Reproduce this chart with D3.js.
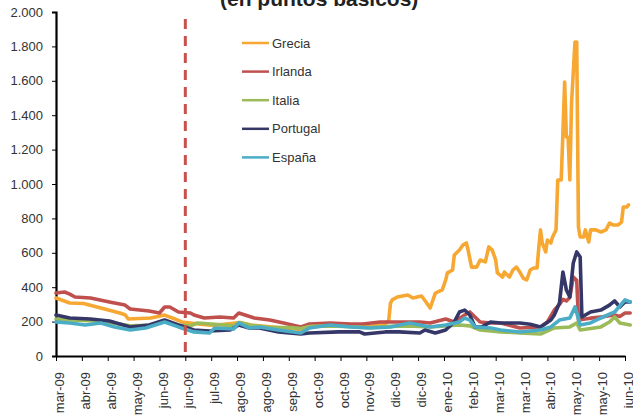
<!DOCTYPE html>
<html>
<head>
<meta charset="utf-8">
<script src="https://cdn.jsdelivr.net/npm/d3@7"></script>
<style>
  html, body { margin: 0; padding: 0; background: #fff; }
  svg { display: block; font-family: "Liberation Sans", Arial, sans-serif; }
</style>
</head>
<body>
<svg id="chart" width="633" height="415"></svg>
<script>
// ---------- DATA (x = trading-day index since start of mar-09) ----------
const title = "(en puntos básicos)";
const xTickLabels = ["mar-09","abr-09","abr-09","may-09","jun-09","jun-09","jul-09","ago-09","ago-09","sep-09","oct-09","oct-09","nov-09","dic-09","dic-09","ene-10","feb-10","mar-10","mar-10","abr-10","may-10","may-10","jun-10"];
const xTickStep = 15;
const yTicks = [0,200,400,600,800,1000,1200,1400,1600,1800,2000];
const markerDay = 75;
const seriesNames = ["Grecia","Irlanda","Italia","Portugal","España"];

const grecia = [[0,337],[8,308],[16,305],[26,279],[37,250],[40,240],[42,215],[55,221],[63,238],[69,215],[73,198],[78,192],[84,185],[92,178],[107,195],[113,180],[124,170],[136,160],[142,155],[147,170],[159,180],[171,175],[182,172],[191,185],[193,209],[194,308],[195,326],[198,343],[204,355],[207,337],[212,349],[215,308],[217,279],[220,366],[224,384],[226,442],[227,483],[230,500],[231,587],[234,616],[236,645],[238,657],[239,616],[241,517],[244,517],[246,558],[249,547],[251,634],[253,616],[255,558],[256,483],[259,459],[260,488],[263,459],[265,500],[267,517],[269,488],[271,453],[273,442],[275,500],[277,512],[279,512],[280,628],[281,733],[282,657],[284,605],[285,674],[287,657],[288,692],[290,733],[291,1023],[293,1023],[294,1297],[295,1593],[296,1273],[297,1273],[298,1023],[299,1471],[301,1826],[302,1826],[303,750],[304,692],[306,692],[307,733],[309,663],[310,733],[313,733],[316,721],[319,733],[321,773],[323,762],[326,762],[328,779],[329,866],[331,866],[332,878]];

const irlanda = [[0,366],[5,372],[8,360],[11,343],[20,337],[31,314],[40,296],[43,273],[54,262],[60,250],[63,285],[66,285],[71,256],[78,250],[80,238],[86,221],[95,227],[103,221],[106,250],[115,221],[124,209],[132,192],[142,169],[147,186],[159,192],[171,186],[178,186],[188,198],[199,198],[211,198],[217,192],[226,215],[231,198],[237,238],[240,256],[243,227],[246,198],[252,192],[258,192],[269,163],[281,169],[285,198],[289,267],[292,300],[294,330],[296,320],[298,340],[300,459],[302,440],[303,209],[310,220],[316,227],[324,238],[327,230],[330,250],[333,250]];

const italia = [[0,215],[8,210],[20,205],[31,195],[43,175],[54,178],[63,200],[71,180],[78,175],[82,192],[92,185],[103,175],[106,195],[115,175],[124,165],[136,165],[142,160],[147,172],[159,175],[171,170],[182,165],[194,172],[205,175],[217,169],[226,175],[234,180],[240,175],[246,151],[258,140],[269,134],[281,128],[289,163],[298,169],[302,192],[304,151],[316,169],[321,198],[324,227],[327,192],[333,180]];

const portugal = [[0,238],[8,221],[20,215],[31,203],[43,169],[54,180],[63,209],[71,180],[80,151],[89,145],[101,151],[106,180],[112,163],[118,163],[129,140],[142,128],[147,134],[164,140],[176,140],[179,128],[191,140],[199,140],[211,134],[214,151],[220,134],[226,151],[231,198],[234,256],[237,267],[240,238],[243,169],[247,169],[252,198],[258,192],[269,192],[275,185],[281,169],[287,209],[289,238],[292,308],[294,488],[296,384],[298,343],[300,541],[302,605],[304,576],[305,227],[310,256],[316,267],[321,296],[324,320],[327,285],[330,314],[333,314]];

const espana = [[0,198],[8,192],[17,180],[26,192],[34,169],[43,151],[52,163],[63,198],[71,169],[80,140],[89,134],[92,163],[103,157],[106,192],[112,163],[118,169],[129,151],[142,134],[147,163],[159,180],[171,169],[182,163],[194,169],[205,192],[217,169],[226,180],[234,198],[237,221],[240,209],[243,169],[252,163],[258,151],[269,140],[281,151],[287,169],[292,209],[298,221],[301,285],[304,180],[310,192],[316,221],[324,256],[330,326],[333,314]];

const seriesValues = [grecia, irlanda, italia, portugal, espana];
const seriesColors = ["#F6A832","#C0504D","#9BBB59","#363769","#4BACC6"];

// ---------- CHART ----------
const svg = d3.select("#chart");
const x = d3.scaleLinear().domain([0, (xTickLabels.length - 1) * xTickStep]).range([56, 625]);
const y = d3.scaleLinear().domain([0, 2000]).range([356, 12]);

const es = d3.formatLocale({decimal: ",", thousands: ".", grouping: [3], currency: ["", ""]});
const fmt = es.format(",.0f");

// title (mostly cut off at the top, as in the reference)
svg.append("text")
  .attr("x", 220).attr("y", 6)
  .attr("font-size", 21).attr("font-weight", "bold").attr("fill", "#222")
  .text(title);

// Y axis
const yAxis = svg.append("g").attr("transform", `translate(${x.range()[0]},0)`)
  .call(d3.axisLeft(y).tickValues(yTicks).tickFormat(fmt).tickSize(4).tickPadding(9));
yAxis.select(".domain").attr("stroke", "#000").attr("stroke-width", 2.2);
yAxis.selectAll(".tick line").attr("stroke", "#000").attr("stroke-width", 1);
yAxis.selectAll(".tick text").attr("font-size", 13).attr("fill", "#333")
  .attr("font-family", "Liberation Sans, Arial, sans-serif");

// X axis
const xTickVals = xTickLabels.map((d, i) => i * xTickStep);
const xAxis = svg.append("g").attr("transform", `translate(0,${y(0)})`)
  .call(d3.axisBottom(x).tickValues(xTickVals).tickFormat((d, i) => xTickLabels[i]).tickSize(5).tickSizeOuter(0));
xAxis.select(".domain").attr("stroke", "#000").attr("stroke-width", 2.2);
xAxis.selectAll(".tick line").attr("stroke", "#000").attr("stroke-width", 1);
xAxis.selectAll(".tick text")
  .attr("font-size", 13).attr("fill", "#333")
  .attr("font-family", "Liberation Sans, Arial, sans-serif")
  .attr("text-anchor", "end")
  .attr("transform", "translate(3,16) rotate(-90)")
  .attr("x", 0).attr("y", 0).attr("dy", "0.35em");

// series lines
const line = d3.line().x(d => x(d[0])).y(d => y(d[1]));
svg.append("g").selectAll("path").data(seriesValues).join("path")
  .attr("d", line)
  .attr("fill", "none")
  .attr("stroke", (d, i) => seriesColors[i])
  .attr("stroke-width", 3.6)
  .attr("stroke-linejoin", "round")
  .attr("stroke-linecap", "round");

// dashed marker line
svg.append("line")
  .attr("x1", x(markerDay)).attr("x2", x(markerDay))
  .attr("y1", y(1960)).attr("y2", y(0) + 1)
  .attr("stroke", "#C8504D").attr("stroke-width", 3)
  .attr("stroke-dasharray", "10,7");

// legend
const leg = svg.append("g");
seriesNames.forEach((name, i) => {
  const ly = 43 + i * 28.6;
  leg.append("line").attr("x1", 242).attr("x2", 269).attr("y1", ly).attr("y2", ly)
    .attr("stroke", seriesColors[i]).attr("stroke-width", 2.5);
  leg.append("text").attr("x", 272).attr("y", ly).attr("dy", "0.36em")
    .attr("font-size", 13).attr("fill", "#333").text(name);
});
</script>
</body>
</html>
